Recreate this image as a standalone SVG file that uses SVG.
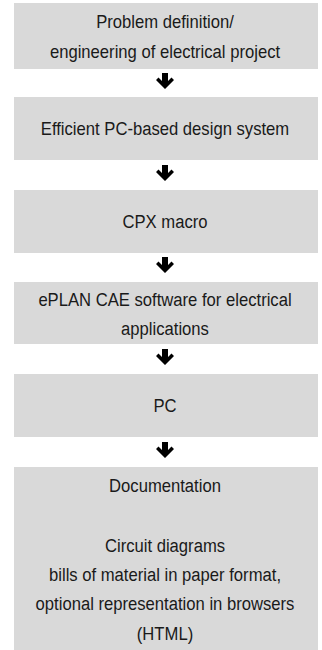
<svg xmlns="http://www.w3.org/2000/svg" xmlns:xlink="http://www.w3.org/1999/xlink" width="322" height="650" viewBox="0 0 322 650">
<style>
  .box { fill: #d9d9d9; }
  .t { font-family: "Liberation Sans", Arial, sans-serif; font-size: 18.5px; fill: #1a1a1a; text-anchor: middle; }
  .arr { fill: #000; }
</style>
<defs>
  <path id="arrow" d="M-3,0 H3 V8 L6.5,4.5 L9,7 L0,16 L-9,7 L-6.5,4.5 L-3,8 Z"/>
</defs>
<rect width="322" height="650" fill="#fff"/>
<g id="n1">
  <rect class="box" x="14" y="3" width="304" height="66"/>
  <g transform="translate(165 0) scale(0.9 1)">
    <text class="t" x="0" y="28">Problem definition/</text>
    <text class="t" x="0" y="58">engineering of electrical project</text>
  </g>
</g>
<g id="n2">
  <rect class="box" x="14" y="97" width="304" height="63"/>
  <g transform="translate(165 0) scale(0.9 1)">
    <text class="t" x="0" y="135">Efficient PC-based design system</text>
  </g>
</g>
<g id="n3">
  <rect class="box" x="14" y="190" width="304" height="63"/>
  <g transform="translate(165 0) scale(0.9 1)">
    <text class="t" x="0" y="228">CPX macro</text>
  </g>
</g>
<g id="n4">
  <rect class="box" x="14" y="282" width="304" height="62"/>
  <g transform="translate(165 0) scale(0.9 1)">
    <text class="t" x="0" y="306">ePLAN CAE software for electrical</text>
    <text class="t" x="0" y="335">applications</text>
  </g>
</g>
<g id="n5">
  <rect class="box" x="14" y="374" width="304" height="63"/>
  <g transform="translate(165 0) scale(0.9 1)">
    <text class="t" x="0" y="412">PC</text>
  </g>
</g>
<g id="n6">
  <rect class="box" x="14" y="467" width="304" height="183"/>
  <g transform="translate(165 0) scale(0.9 1)">
    <text class="t" x="0" y="492">Documentation</text>
    <text class="t" x="0" y="552">Circuit diagrams</text>
    <text class="t" x="0" y="581">bills of material in paper format,</text>
    <text class="t" x="0" y="610">optional representation in browsers</text>
    <text class="t" x="0" y="640">(HTML)</text>
  </g>
</g>
<g id="connectors" class="arr">
  <use xlink:href="#arrow" x="165" y="73"/>
  <use xlink:href="#arrow" x="165" y="165"/>
  <use xlink:href="#arrow" x="165" y="257"/>
  <use xlink:href="#arrow" x="165" y="349"/>
  <use xlink:href="#arrow" x="165" y="442"/>
</g>
</svg>
